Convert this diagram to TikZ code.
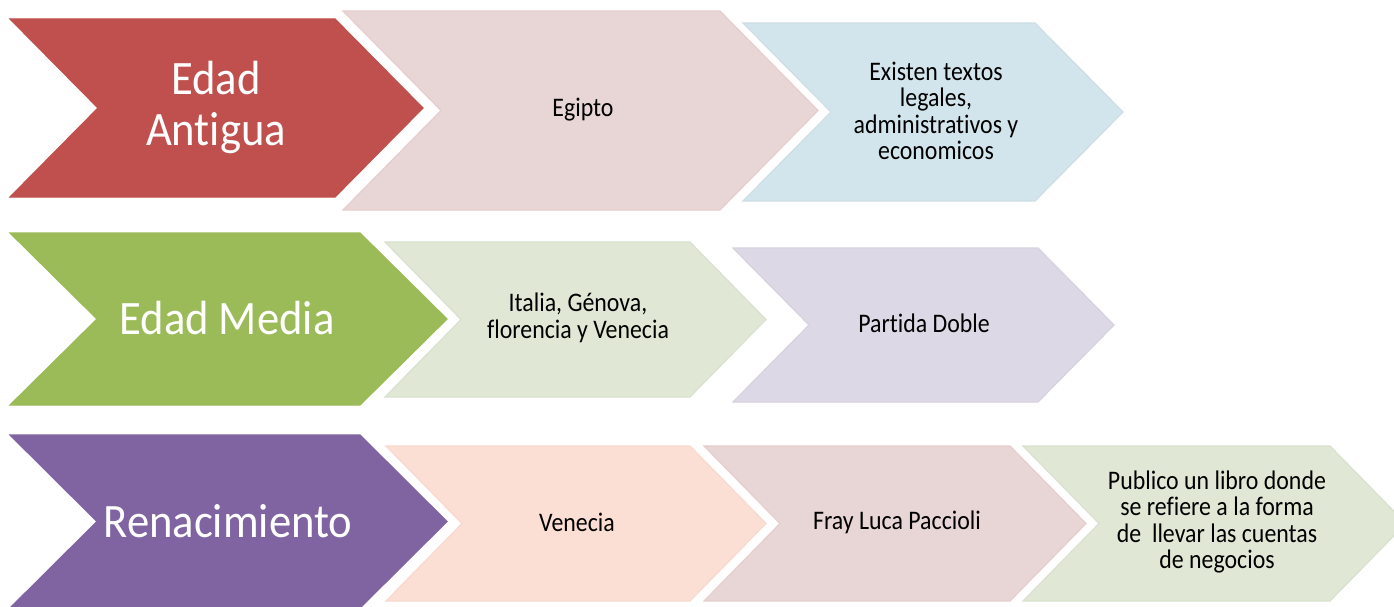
\documentclass[tikz,border=0pt]{standalone}
\usepackage{fontspec}
\setmainfont{Carlito}[FakeStretch=0.89,Ligatures=NoCommon]
\newfontfamily\bigfont{Carlito}[FakeStretch=0.93,Ligatures=NoCommon]
\definecolor{cRed}{HTML}{C0504D}
\definecolor{cPink}{HTML}{E8D5D5}
\definecolor{cBlue}{HTML}{D3E5EC}
\definecolor{cGreen}{HTML}{9BBB59}
\definecolor{cLGreen}{HTML}{E0E8D5}
\definecolor{cPurple}{HTML}{8064A2}
\definecolor{cLPurple}{HTML}{DDD8E5}
\definecolor{cPeach}{HTML}{FBDFD4}
% #1 xl, #2 yt, #3 yb, #4 xr, #5 depth, #6 fill, #7 border
\newcommand\mychev[7]{%
  \path[fill=#6,draw=#7,line width=1.2pt,line join=miter]
    (#1,#2) -- (#4,#2) -- ({#4+#5},{(#2+#3)/2}) -- (#4,#3) -- (#1,#3)
    -- ({#1+#5},{(#2+#3)/2}) -- cycle;}
\begin{document}
\begin{tikzpicture}[x=1pt,y=-1pt,
  bigtxt/.style={text=white,inner sep=0pt,align=center,font=\bigfont\fontsize{48}{51}\selectfont},
  smalltxt/.style={text=black,inner sep=0pt,align=center,font=\fontsize{26.8}{26.5}\selectfont}]
\useasboundingbox (0,0) rectangle (1394,607);
\fill[white] (0,0) rectangle (1394,607);
\clip (0,0) rectangle (1394,607);
% row 1
\mychev{343}{11}{210}{720}{98}{cPink}{cPink!95!cRed}
\mychev{743}{23}{201}{1035}{88}{cBlue}{cBlue!97!black}
\mychev{10}{19}{197}{335}{88}{cRed}{cRed}
% row 2
\mychev{385}{242}{397}{690}{76}{cLGreen}{cLGreen!97!black}
\mychev{733}{248}{402}{1038}{76}{cLPurple}{cLPurple!97!black}
\mychev{10}{233}{405}{360}{87}{cGreen}{cGreen}
% row 3
\mychev{386}{446}{601}{690}{76}{cPeach}{cPeach!96!cRed}
\mychev{704}{446}{601}{1010}{76}{cPink}{cPink!95!cRed}
\mychev{1023}{446}{601}{1330}{76}{cLGreen}{cLGreen!97!black}
\mychev{10}{435}{608}{360}{87}{cPurple}{cPurple}
% texts
\node[bigtxt] (antigua) at (216,107) {Edad\\Antigua};
\node[smalltxt] (egipto) at (583,110) {Egipto};
\node[smalltxt] (textos) at (936,111) {Existen textos\\legales,\\administrativos y\\economicos};
\node[bigtxt] (media) at (227,318) {Edad Media};
\node[smalltxt] (italia) at (578,318) {Italia, Génova,\\florencia y Venecia};
\node[smalltxt] (partida) at (924,323) {Partida Doble};
\node[bigtxt] (renac) at (228,521) {Renacimiento};
\node[smalltxt] (venecia) at (577,522) {Venecia};
\node[smalltxt] (fray) at (897,522) {Fray Luca Paccioli};
\node[smalltxt] (libro) at (1217,522) {Publico un libro donde\\se refiere a la forma\\de\ \ llevar las cuentas\\de negocios};
\end{tikzpicture}
\end{document}
